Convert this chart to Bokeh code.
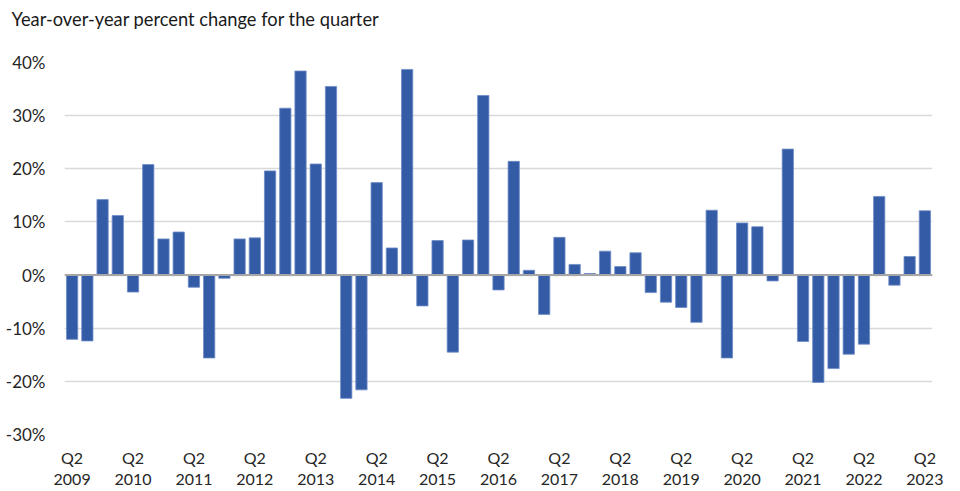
from bokeh.plotting import figure
from bokeh.models import Range1d, FixedTicker, PrintfTickFormatter, Span, Title
from bokeh.embed import file_html
from bokeh.resources import INLINE

# Quarters Q2 2009 .. Q2 2023
quarters = []
for yr in range(2009, 2024):
    for q in (["Q2", "Q3", "Q4"] if yr == 2009 else (["Q1", "Q2"] if yr == 2023 else ["Q1", "Q2", "Q3", "Q4"])):
        quarters.append(f"{q} {yr}")

# Year-over-year percent change (%)
values = [
    -12.1, -12.4, 14.2, 11.2, -3.2, 20.8, 6.8, 8.1, -2.3, -15.6,
    -0.6, 6.8, 7.0, 19.6, 31.4, 38.4, 20.9, 35.5, -23.2, -21.6,
    17.4, 5.1, 38.7, -5.8, 6.5, -14.5, 6.6, 33.8, -2.8, 21.4,
    0.9, -7.4, 7.1, 2.0, 0.3, 4.5, 1.6, 4.2, -3.3, -5.1,
    -6.1, -8.9, 12.2, -15.6, 9.8, 9.1, -1.1, 23.7, -12.5, -20.2,
    -17.6, -14.9, -13.0, 14.8, -1.9, 3.5, 12.1,
]

tick_years = list(range(2009, 2024))
tick_labels = [f"Q2\n{y}" for y in tick_years]
y_ticks = [-30, -20, -10, 0, 10, 20, 30, 40]
title_text = "Year-over-year percent change for the quarter"

FONT = "Lato"
n = len(values)
idx = list(range(n))
tick_pos = [quarters.index(f"Q2 {y}") for y in tick_years]

p = figure(width=952, height=491, output_backend="svg", toolbar_location=None, title=None,
           x_range=Range1d(-0.5, n - 0.5), y_range=Range1d(-30, 40),
           min_border_left=64, min_border_right=20, min_border_bottom=0, min_border_top=0)

# spacer (closest to the frame), then the real title above it
p.add_layout(Title(text=" ", text_font_size="1px", standoff=25), "above")
p.add_layout(Title(text=title_text, text_font=FONT, text_font_size="18.3px",
                   text_font_style="normal", text_color="#1a1a1a",
                   align="left", offset=-53, standoff=10), "above")

p.vbar(x=idx, top=values, width=0.74, bottom=0, fill_color="#345ca6", line_color="#6f8cc8", line_width=0.8)

p.add_layout(Span(location=0, dimension="width", line_color="#a6a6a6", line_width=2))

p.outline_line_color = None
p.xgrid.grid_line_color = None
p.ygrid.grid_line_color = "#d9d9d9"
p.ygrid.grid_line_width = 1.3
p.ygrid.ticker = FixedTicker(ticks=y_ticks)

p.yaxis.ticker = FixedTicker(ticks=y_ticks)
p.yaxis.formatter = PrintfTickFormatter(format="%d%%")
p.yaxis.axis_line_color = None
p.yaxis.major_tick_line_color = None
p.yaxis.minor_tick_line_color = None
p.yaxis.major_label_standoff = 13
p.yaxis.major_label_text_font = FONT
p.yaxis.major_label_text_font_size = "17px"
p.yaxis.major_label_text_color = "#262626"

p.xaxis.ticker = FixedTicker(ticks=tick_pos)
p.xaxis.major_label_overrides = {pos: lab for pos, lab in zip(tick_pos, tick_labels)}
p.xaxis.axis_line_color = None
p.xaxis.major_tick_line_color = None
p.xaxis.minor_tick_line_color = None
p.xaxis.major_label_standoff = 7
p.xaxis.major_label_text_font = FONT
p.xaxis.major_label_text_font_size = "16px"
p.xaxis.major_label_text_color = "#262626"
p.xaxis.major_label_text_line_height = 1.15

p.background_fill_color = "white"
p.border_fill_color = "white"

open("out.html", "w").write(file_html(p, INLINE))
